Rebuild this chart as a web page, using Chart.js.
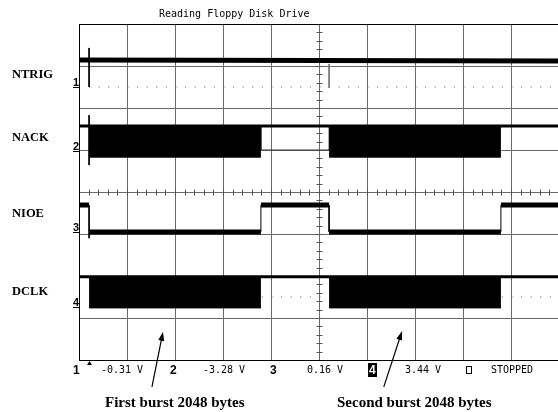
<!DOCTYPE html>
<html>
<head>
<meta charset="utf-8">
<script src="https://cdn.jsdelivr.net/npm/chart.js@4.4.1/dist/chart.umd.min.js"></script>
<style>
  html, body { margin: 0; padding: 0; background: #fff; overflow: hidden; }
  #wrap { position: relative; width: 558px; height: 412px; overflow: hidden; }
  #scope { position: absolute; left: 0; top: 0; }
  .name { position: absolute; left: 12px; font: bold 12.5px "Liberation Serif", serif; line-height: 13px; }
  .note { position: absolute; font: bold 15px "Liberation Serif", serif; line-height: 15px; white-space: nowrap; }
  .mono { position: absolute; top: 365px; font: 10px "DejaVu Sans Mono", monospace; line-height: 10px; white-space: nowrap; }
  .chn { position: absolute; top: 364px; font: bold 12px "Liberation Sans Narrow", "Liberation Sans", sans-serif; line-height: 12px; }
  .gnd { position: absolute; left: 73px; font: bold 11px "Liberation Sans Narrow", "Liberation Sans", sans-serif; line-height: 10px; border-bottom: 1.5px solid #000; width: 6px; }
  .inv { background: #000; color: #fff; padding: 0 1px; }
  .box { position: absolute; left: 466px; top: 366px; width: 4px; height: 6px; border: 1px solid #000; }
  .title { position: absolute; left: 159px; top: 9px; font: 10px "DejaVu Sans Mono", monospace; line-height: 10px; white-space: nowrap; }
</style>
</head>
<body>
<div id="wrap">
  <canvas id="scope" width="570" height="412"></canvas>
  <div class="title">Reading Floppy Disk Drive</div>
  <div class="name" style="top:68px">NTRIG</div>
  <div class="name" style="top:131px">NACK</div>
  <div class="name" style="top:207px">NIOE</div>
  <div class="name" style="top:285px">DCLK</div>
  <div class="gnd" style="top:77px">1</div>
  <div class="gnd" style="top:141px">2</div>
  <div class="gnd" style="top:222px">3</div>
  <div class="gnd" style="top:297px">4</div>
  <div class="chn" style="left:73px">1</div>
  <div class="mono" style="left:101px">-0.31 V</div>
  <div class="chn" style="left:170px">2</div>
  <div class="mono" style="left:203px">-3.28 V</div>
  <div class="chn" style="left:270px">3</div>
  <div class="mono" style="left:307px">0.16 V</div>
  <div class="chn" style="left:368px"><span class="inv">4</span></div>
  <div class="mono" style="left:405px">3.44 V</div>
  <div class="box"></div>
  <div class="mono" style="left:491px">STOPPED</div>
  <div class="note" style="left:105px; top:395px">First burst 2048 bytes</div>
  <div class="note" style="left:337px; top:395px">Second burst 2048 bytes</div>
</div>
<script>
// Screen is 10 x 8 divisions; all values below are in divisions
const burstStart = [0.21, 5.21];
const burstEnd = [3.79, 8.79];

const ntrigTrace = [[0, 7.14], [10, 7.12]];
const ntrigSpikes = [[0.21, 7.43], [0.21, 6.5]];
const ntrigSpike2 = [[5.21, 7.05], [5.21, 6.48]];
const ntrigDots = [[0.21, 6.5], [10, 6.5]];

const nackHigh = [[0, 5.57], [10, 5.57]];
const nackLow = [4.83, 4.83];
const nackGap = [[3.79, 5.57], [3.79, 5.0], [5.21, 5.0], [5.21, 5.57]];
const nackSpike = [[0.21, 5.83], [0.21, 4.64]];

const nioeTrace = [
  [0, 3.69], [0.21, 3.69], [0.21, 3.05], [3.79, 3.05], [3.79, 3.69],
  [5.21, 3.69], [5.21, 3.05], [8.79, 3.05], [8.79, 3.69], [10, 3.69],
];
const nioeSpike = [[0.21, 3.05], [0.21, 2.9]];

const dclkHigh = [[0, 1.98], [10, 1.98]];
const dclkLow = [1.24, 1.24];
const dclkDots = [[0.21, 1.5], [10, 1.5]];

// arrows: [tailX, tailY, tipX, tipY]
const arrowNotes = [
  [1.52, -0.64, 1.75, 0.67],
  [6.35, -0.64, 6.73, 0.69],
];
const triggerPos = 0.21;

const pts = (arr) => arr.map(([x, y]) => ({ x, y }));

function line(data, width, color, extra) {
  return Object.assign({
    data: pts(data),
    borderColor: color || "#000",
    borderWidth: width,
    pointRadius: 0,
    fill: false,
    tension: 0,
  }, extra || {});
}

function bursts(low, high) {
  return burstStart.map((s, i) => ({
    data: [{ x: s, y: low[i] }, { x: burstEnd[i], y: low[i] }],
    borderColor: "#000",
    borderWidth: 1,
    backgroundColor: "#000",
    pointRadius: 0,
    fill: { value: high },
  }));
}

const datasets = [
  ...bursts(nackLow, nackHigh[0][1]),
  ...bursts(dclkLow, dclkHigh[0][1]),
  line(ntrigTrace, 5),
  line(nackHigh, 3),
  line(dclkHigh, 3),
  line(nioeTrace, 5, "#000", {
    segment: { borderWidth: (c) => (c.p0.parsed.x === c.p1.parsed.x ? 1 : 5) },
  }),
  line(ntrigSpikes, 1),
  line(ntrigSpike2, 1, "#777"),
  line(nackSpike, 1),
  line(nioeSpike, 1),
  line(nackGap, 1, "#333"),
  line(ntrigDots, 1, "#555", { borderDash: [1, 8.6] }),
  line(dclkDots, 1, "#555", { borderDash: [1, 8.6] }),
];

// minor ticks on the centre lines, arrows and trigger mark
const scopeExtras = {
  id: "scopeExtras",
  beforeDatasetsDraw(chart) {
    const { ctx, scales: { x, y } } = chart;
    ctx.save();
    ctx.strokeStyle = "#555";
    ctx.lineWidth = 1;
    const cx = Math.round(x.getPixelForValue(5)) + 0.5;
    const cy = Math.round(y.getPixelForValue(4)) + 0.5;
    ctx.beginPath();
    for (let i = 1; i < 50; i++) {
      const px = Math.round(x.getPixelForValue(i * 0.2)) + 0.5;
      ctx.moveTo(px, cy - 3);
      ctx.lineTo(px, cy + 3);
    }
    for (let i = 1; i < 40; i++) {
      const py = Math.round(y.getPixelForValue(i * 0.2)) + 0.5;
      ctx.moveTo(cx - 3, py);
      ctx.lineTo(cx + 3, py);
    }
    ctx.stroke();
    ctx.restore();
  },
  afterDraw(chart) {
    const { ctx, scales: { x, y } } = chart;
    ctx.save();
    ctx.fillStyle = "#000";
    ctx.strokeStyle = "#000";
    ctx.lineWidth = 1.2;
    arrowNotes.forEach(([x0, y0, x1, y1]) => {
      const ax = x.getPixelForValue(x0), ay = y.getPixelForValue(y0);
      const bx = x.getPixelForValue(x1), by = y.getPixelForValue(y1);
      const ang = Math.atan2(by - ay, bx - ax);
      ctx.beginPath();
      ctx.moveTo(ax, ay);
      ctx.lineTo(bx - 6 * Math.cos(ang), by - 6 * Math.sin(ang));
      ctx.stroke();
      ctx.beginPath();
      ctx.moveTo(bx, by);
      ctx.lineTo(bx - 9 * Math.cos(ang) + 3 * Math.sin(ang), by - 9 * Math.sin(ang) - 3 * Math.cos(ang));
      ctx.lineTo(bx - 9 * Math.cos(ang) - 3 * Math.sin(ang), by - 9 * Math.sin(ang) + 3 * Math.cos(ang));
      ctx.closePath();
      ctx.fill();
    });
    const tx = Math.round(x.getPixelForValue(triggerPos)) + 0.5;
    const ty = chart.chartArea.bottom + 1;
    ctx.beginPath();
    ctx.moveTo(tx, ty);
    ctx.lineTo(tx - 2.5, ty + 4);
    ctx.lineTo(tx + 2.5, ty + 4);
    ctx.closePath();
    ctx.fill();
    ctx.restore();
  },
};

const gridColor = (edge) => (c) => (c.tick.value === edge ? "#000" : "#6a6a6a");

new Chart(document.getElementById("scope").getContext("2d"), {
  type: "line",
  data: { datasets },
  options: {
    responsive: false,
    animation: false,
    layout: { padding: { left: 79, top: 24, right: 11, bottom: 52 } },
    plugins: { legend: { display: false }, tooltip: { enabled: false }, title: { display: false } },
    scales: {
      x: {
        type: "linear",
        min: 0,
        max: 10,
        ticks: { display: false, stepSize: 1 },
        grid: { drawTicks: false, color: gridColor(0), lineWidth: 1 },
        border: { display: true, color: "#000", width: 1 },
      },
      y: {
        type: "linear",
        min: 0,
        max: 8,
        ticks: { display: false, stepSize: 1 },
        grid: { drawTicks: false, color: gridColor(8), lineWidth: 1 },
        border: { display: true, color: "#000", width: 1 },
      },
    },
  },
  plugins: [scopeExtras],
});
</script>
</body>
</html>
